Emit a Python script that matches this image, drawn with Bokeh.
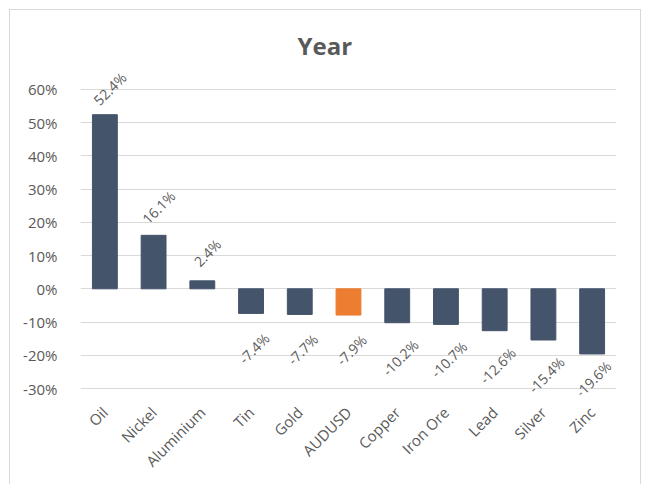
import math
from bokeh.plotting import figure
from bokeh.models import ColumnDataSource, FixedTicker, FactorRange, Range1d, LabelSet
from bokeh.embed import file_html
from bokeh.resources import INLINE
from bokeh.core.properties import value

# ---- data ----
categories = ["Oil", "Nickel", "Aluminium", "Tin", "Gold", "AUDUSD",
              "Copper", "Iron Ore", "Lead", "Silver", "Zinc"]
changes = [52.4, 16.1, 2.4, -7.4, -7.7, -7.9, -10.2, -10.7, -12.6, -15.4, -19.6]
highlight = "AUDUSD"
y_ticks = [-30, -20, -10, 0, 10, 20, 30, 40, 50, 60]
title_text = "Year"

# ---- style ----
BAR = "#44546A"
HI = "#ED7D31"
GREY = "#595959"
GRID = "#D9D9D9"
FONT = "Open Sans"

colors = [HI if c == highlight else BAR for c in categories]
labels = ["{:.1f}%".format(v) for v in changes]
# label offsets (screen px, y up) – outside end, clamped for edge labels like Excel
x_off = [5 if v >= 0 else 3 for v in changes]
y_off = [28 if v >= 0 else -35 for v in changes]
x_off[0], y_off[0] = 5, 26
x_off[-1], y_off[-1] = 1, -25

src = ColumnDataSource(dict(cat=categories, val=changes, color=colors,
                            label=labels, xo=x_off, yo=y_off))

p = figure(width=630, height=474, output_backend="svg", toolbar_location=None,
           x_range=FactorRange(*categories, range_padding=0),
           y_range=Range1d(-31.8, 66.0),
           min_border_left=70, min_border_right=24,
           min_border_top=59, min_border_bottom=90)
p.margin = (10, 0, 0, 10)
p.styles = {"outline": "1.5px solid #D9D9D9"}
p.outline_line_color = None
p.background_fill_color = "white"
p.border_fill_color = "white"

p.vbar(x="cat", top="val", bottom=0, width=0.51, color="color", source=src)
p.add_layout(LabelSet(x="cat", y="val", text="label", source=src, angle=math.pi / 4,
                      x_offset="xo", y_offset="yo", text_align="center",
                      text_baseline="middle", text_font=value(FONT),
                      text_font_size="14px", text_color=GREY, level="overlay"))

# grid
p.xgrid.grid_line_color = None
p.ygrid.ticker = FixedTicker(ticks=y_ticks)
p.ygrid.grid_line_color = GRID
p.ygrid.grid_line_width = 1

# y axis
p.yaxis.ticker = FixedTicker(ticks=y_ticks)
p.yaxis.major_label_overrides = {t: "{}%".format(t) for t in y_ticks}
p.yaxis.axis_line_color = None
p.yaxis.major_tick_line_color = None
p.yaxis.minor_tick_line_color = None
p.yaxis.major_label_standoff = 17
p.yaxis.major_label_text_font = FONT
p.yaxis.major_label_text_font_size = "15px"
p.yaxis.major_label_text_color = GREY

# x axis
p.xaxis.major_label_orientation = math.pi / 4
p.xaxis.axis_line_color = None
p.xaxis.major_tick_line_color = None
p.xaxis.minor_tick_line_color = None
p.xaxis.major_label_standoff = 9
p.xaxis.major_label_text_font = FONT
p.xaxis.major_label_text_font_size = "15px"
p.xaxis.major_label_text_color = GREY

# title
p.title.text = title_text
p.title.align = "left"
p.title.offset = 217
p.title.standoff = 15
p.title.text_font = FONT
p.title.text_font_size = "24px"
p.title.text_font_style = "bold"
p.title.text_color = GREY

open("out.html", "w").write(file_html(p, INLINE))
